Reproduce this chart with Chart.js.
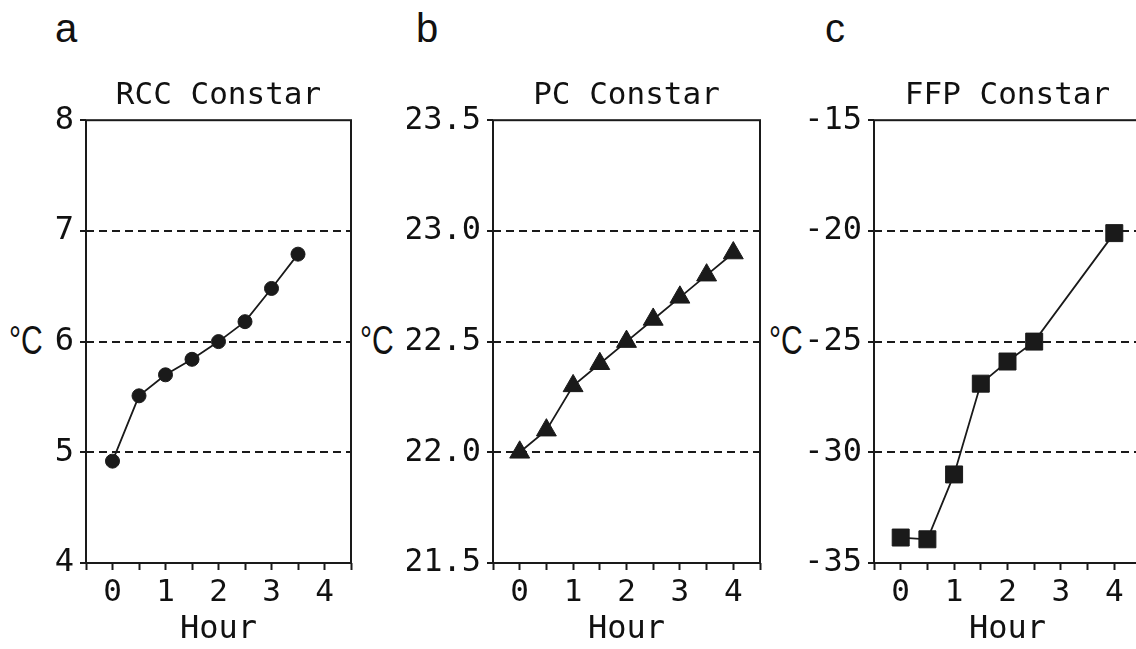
<!DOCTYPE html>
<html>
<head>
<meta charset="utf-8">
<script src="https://cdn.jsdelivr.net/npm/chart.js@4.4.1/dist/chart.umd.min.js"></script>
<style>
  html, body { margin: 0; padding: 0; background: #fff; overflow: hidden; }
  body { width: 1136px; height: 649px; position: relative; }
  canvas { position: absolute; top: 0; }
  .letra { position: absolute; font-family: "Liberation Sans", Arial, sans-serif; font-size: 40px; line-height: 40px; color: #111; }
  .unidad { position: absolute; font-family: "Liberation Sans", Arial, sans-serif; font-size: 40px; line-height: 40px; color: #111; transform: scaleX(0.75); transform-origin: left top; white-space: nowrap; }
</style>
</head>
<body>
<div class="letra" id="letra-a" style="left:55px; top:8px;"></div>
<div class="letra" id="letra-b" style="left:416px; top:8px;"></div>
<div class="letra" id="letra-c" style="left:825px; top:8px;"></div>
<div class="unidad" id="unidad-a" style="left:9px; top:320px;"></div>
<div class="unidad" id="unidad-b" style="left:360px; top:320px;"></div>
<div class="unidad" id="unidad-c" style="left:769px; top:320px;"></div>
<canvas id="chart-a" width="380" height="649" style="left:0px;"></canvas>
<canvas id="chart-b" width="380" height="649" style="left:407px;"></canvas>
<canvas id="chart-c" width="380" height="649" style="left:788px;"></canvas>
<script>
// ===============================
// DATOS
// ===============================
const panelLetters = ["a", "b", "c"];
const panelTitles = ["RCC Constar", "PC Constar", "FFP Constar"];
const unitLabel = "°C";
const xAxisLabel = "Hour";

const hoursA = [0, 0.5, 1, 1.5, 2, 2.5, 3, 3.5];
const rccTemp = [4.92, 5.51, 5.70, 5.84, 6.00, 6.18, 6.48, 6.79];

const hoursB = [0, 0.5, 1, 1.5, 2, 2.5, 3, 3.5, 4];
const pcTemp = [22.0, 22.1, 22.3, 22.4, 22.5, 22.6, 22.7, 22.8, 22.9];

const hoursC = [0, 0.5, 1, 1.5, 2, 2.5, 4];
const ffpTemp = [-33.85, -33.93, -31.0, -26.9, -25.9, -25.0, -20.1];

// [min, max, paso]
const hourRange = [-0.5, 4.5, 0.5];
const yRangeA = [4, 8, 1];
const yRangeB = [21.5, 23.5, 0.5];
const yRangeC = [-35, -15, 5];


// ===============================
// CONFIGURACIÓN GLOBAL
// ===============================
Chart.defaults.color = "#111";
Chart.defaults.font.family = "'DejaVu Sans Mono', monospace";
Chart.defaults.animation = false;

const TINTA = "#1a1a1a";

panelLetters.forEach(l => {
    document.getElementById("letra-" + l).textContent = l;
    document.getElementById("unidad-" + l).textContent = unitLabel;
});

// marco alrededor del área del gráfico
const marco = {
    id: "marco",
    beforeDatasetsDraw(chart) {
        const { ctx, chartArea: a } = chart;
        ctx.save();
        ctx.strokeStyle = TINTA;
        ctx.lineWidth = 2;
        ctx.strokeRect(a.left, a.top, a.right - a.left, a.bottom - a.top);
        ctx.restore();
    }
};


// ===============================
// FUNCIÓN PARA CREAR CADA PANEL
// ===============================
function crearPanel(id, titulo, horas, valores, rangoY, decimales, punto, radio, derecha) {
    const ctx = document.getElementById(id).getContext("2d");
    const [yMin, yMax, yPaso] = rangoY;

    return new Chart(ctx, {
        type: "line",
        data: {
            datasets: [{
                data: horas.map((h, i) => ({ x: h, y: valores[i] })),
                borderColor: TINTA,
                borderWidth: 1.8,
                pointStyle: punto,
                pointRadius: radio,
                pointBackgroundColor: TINTA,
                pointBorderColor: TINTA,
                pointBorderWidth: 1,
                tension: 0
            }]
        },
        options: {
            responsive: false,
            devicePixelRatio: 1,
            layout: { padding: { top: 0, left: 0, right: derecha, bottom: 0 } },
            plugins: {
                legend: { display: false },
                tooltip: { enabled: false },
                title: {
                    display: true,
                    text: titulo,
                    fullSize: false,
                    color: "#111",
                    font: { size: 31, weight: "normal", lineHeight: 1.2 },
                    padding: { top: 77, bottom: 6 }
                }
            },
            scales: {
                x: {
                    type: "linear",
                    min: hourRange[0],
                    max: hourRange[1],
                    afterFit: s => { s.height = 86; },
                    ticks: {
                        stepSize: hourRange[2],
                        autoSkip: false,
                        maxRotation: 0,
                        padding: 4,
                        color: "#111",
                        font: { size: 31, lineHeight: 1.2 },
                        callback: v => Number.isInteger(v) ? String(v) : ""
                    },
                    grid: {
                        drawOnChartArea: false,
                        drawTicks: true,
                        tickLength: 7,
                        tickWidth: 2,
                        tickColor: TINTA,
                        color: TINTA
                    },
                    border: { display: false },
                    title: {
                        display: true,
                        text: xAxisLabel,
                        color: "#111",
                        font: { size: 32, lineHeight: 1.2 },
                        padding: { top: 0, bottom: 0 }
                    }
                },
                y: {
                    min: yMin,
                    max: yMax,
                    afterFit: s => { s.width = 86; },
                    ticks: {
                        stepSize: yPaso,
                        autoSkip: false,
                        padding: 6,
                        color: "#111",
                        font: { size: 32, lineHeight: 1.2 },
                        callback: v => v.toFixed(decimales)
                    },
                    grid: {
                        color: c => (c.tick && (c.tick.value === yMin || c.tick.value === yMax)) ? "rgba(0,0,0,0)" : TINTA,
                        lineWidth: 2,
                        tickLength: 6,
                        tickWidth: 2,
                        tickColor: TINTA,
                        tickBorderDash: [],
                        borderDash: [8, 5]
                    },
                    border: { display: false, dash: [8, 5] }
                }
            }
        },
        plugins: [marco]
    });
}


// ===============================
// CARGAR PANELES
// ===============================
crearPanel("chart-a", panelTitles[0], hoursA, rccTemp, yRangeA, 0, "circle", 7, 29);
crearPanel("chart-b", panelTitles[1], hoursB, pcTemp, yRangeB, 1, "triangle", 11.5, 27);
crearPanel("chart-c", panelTitles[2], hoursC, ffpTemp, yRangeC, 0, "rect", 12, 27);
</script>
</body>
</html>
